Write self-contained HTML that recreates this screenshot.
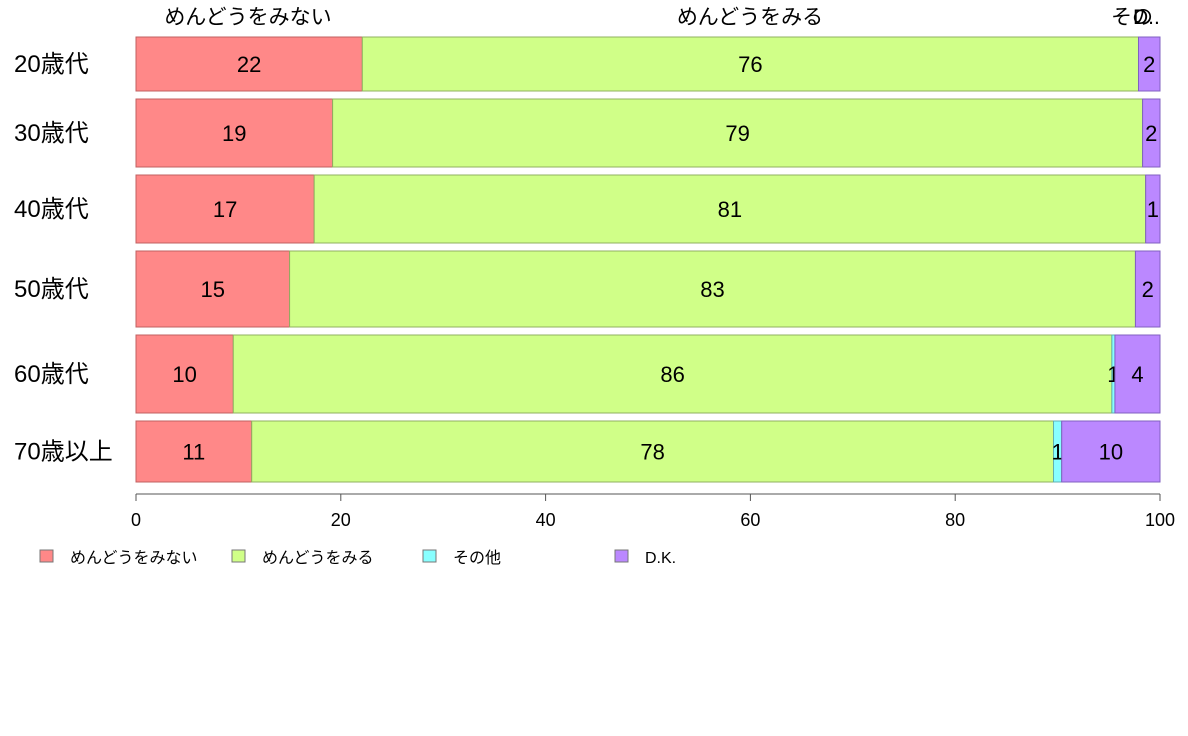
<!DOCTYPE html>
<html><head><meta charset="utf-8"><style>
body{margin:0;background:#fff;}
svg{display:block;font-family:"Liberation Sans","Noto Sans CJK JP",sans-serif;}
</style></head><body>
<svg id="chart" width="1188" height="736">
<g id="bars"></g>
<g id="yaxis"></g>
<g id="xaxis"></g>
<g id="toplabels"></g>
<g id="legend"></g>
</svg>
<script>
const categories = ["20歳代","30歳代","40歳代","50歳代","60歳代","70歳以上"];
const weights = [54,68,68,76,78,61];
const seriesNames = ["めんどうをみない","めんどうをみる","その他","D.K."];
const notCare = [22.1,19.2,17.4,15.0,9.5,11.3];
const care = [75.8,79.1,81.2,82.6,85.8,78.3];
const other = [0,0,0,0,0.3,0.8];
const dk = [2.1,1.7,1.4,2.4,4.4,9.6];
const xTicks = [0,20,40,60,80,100];
const colors = ["#ff8888","#d0ff88","#88ffff","#bb88ff"];
const strokes = ["#c06060","#90b060","#60b0b0","#8060c0"];
const NS="http://www.w3.org/2000/svg";
const X0=136,X1=1160,Y0=37,Y1=482,GAP=8;
const xs = v => X0 + v/100*(X1-X0);
function mk(tag,attrs,parent){const e=document.createElementNS(NS,tag);for(const k in attrs)e.setAttribute(k,attrs[k]);parent.appendChild(e);return e;}
const series=[notCare,care,other,dk];
const totalW=weights.reduce((a,b)=>a+b,0);
const avail=(Y1-Y0)-GAP*(categories.length-1);
let yPos=Y0;
const barsG=document.getElementById('bars'),yaxG=document.getElementById('yaxis');
categories.forEach((c,i)=>{
  const h=weights[i]/totalW*avail;
  let cum=0;
  series.forEach((s,j)=>{
    const v=s[i];
    if(v>0){
      const r=mk('rect',{x:xs(cum),y:yPos,width:xs(cum+v)-xs(cum),height:h,fill:colors[j],stroke:strokes[j],'stroke-width':1},barsG);
      
      
      const t=mk('text',{x:(xs(cum)+xs(cum+v))/2,y:yPos+h/2+8,'text-anchor':'middle','font-size':22,fill:'#000'},barsG);
      t.textContent=Math.max(1,Math.round(v));
      
      
    }
    cum+=v;
  });
  const lt=mk('text',{x:14,y:yPos+h/2+8,'font-size':24,fill:'#000'},yaxG);
  lt.textContent=c;
  
  
  yPos+=h+GAP;
});
const xa=document.getElementById('xaxis');
mk('line',{x1:X0,x2:X1,y1:494,y2:494,stroke:'#555'},xa);
xTicks.forEach(t=>{
  mk('line',{x1:xs(t),x2:xs(t),y1:494,y2:501,stroke:'#555'},xa);
  const tx=mk('text',{x:xs(t),y:526,'text-anchor':'middle','font-size':18},xa);
  tx.textContent=t;
  
  
});
const topG=document.getElementById('toplabels');
[[248,"めんどうをみない","middle"],[750,"めんどうをみる","middle"],[1111,"その","start"],[1133,"D..","start"]].forEach(a=>{
  const t=mk('text',{x:a[0],y:24,'text-anchor':a[2],'font-size':21},topG);
  t.textContent=a[1];
  
  
});
const lg=document.getElementById('legend');
const lx=[40,232,423,615];
seriesNames.forEach((n,j)=>{
  const r=mk('rect',{x:lx[j],y:550,width:13,height:12,fill:colors[j],stroke:'#777'},lg);
  
  
  const t=mk('text',{x:lx[j]+30,y:563,'font-size':16},lg);
  t.textContent=n;
  
  
});
</script>
</body></html>
